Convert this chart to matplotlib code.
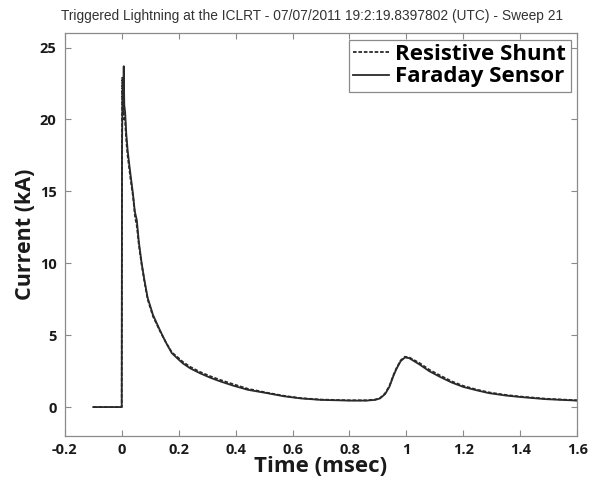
import matplotlib
matplotlib.use("Agg")
import matplotlib.pyplot as plt

# Faraday sensor (solid)
t_faraday = [-0.1, 0.0, 0.001, 0.003, 0.005, 0.007, 0.009, 0.012, 0.016, 0.021, 0.03, 0.039,
             0.046, 0.053, 0.06, 0.07, 0.08, 0.091, 0.11, 0.134, 0.155, 0.176, 0.2, 0.214,
             0.24, 0.274, 0.31, 0.344, 0.39, 0.443, 0.51, 0.57, 0.63, 0.7, 0.74, 0.8, 0.86,
             0.89, 0.907, 0.925, 0.94, 0.955, 0.965, 0.98, 0.995, 1.01, 1.047, 1.08, 1.118,
             1.16, 1.2, 1.25, 1.29, 1.35, 1.4, 1.49, 1.6]
i_faraday = [0, 0, 18, 22, 21, 23.7, 21, 20.5, 19, 17.8, 16.3, 14.9,
             13.6, 13.0, 11.5, 10.0, 8.8, 7.6, 6.4, 5.35, 4.5, 3.75, 3.3, 3.05,
             2.7, 2.36, 2.05, 1.8, 1.5, 1.2, 0.97, 0.75, 0.6, 0.5, 0.48, 0.45, 0.45,
             0.5, 0.6, 0.9, 1.4, 2.2, 2.65, 3.2, 3.45, 3.4, 2.95, 2.5, 2.1,
             1.7, 1.4, 1.15, 0.97, 0.8, 0.7, 0.55, 0.45]

# Resistive shunt (dashed)
t_shunt = [-0.1, 0.0, 0.001, 0.002, 0.004, 0.006, 0.008, 0.011, 0.015, 0.02, 0.03, 0.04,
           0.047, 0.053, 0.06, 0.07, 0.08, 0.091, 0.11, 0.134, 0.155, 0.176, 0.2, 0.214,
           0.24, 0.274, 0.31, 0.344, 0.39, 0.443, 0.51, 0.57, 0.63, 0.7, 0.74, 0.8, 0.86,
           0.89, 0.907, 0.925, 0.94, 0.955, 0.965, 0.98, 0.995, 1.01, 1.047, 1.08, 1.118,
           1.16, 1.2, 1.25, 1.29, 1.35, 1.4, 1.49, 1.6]
i_shunt = [0, 0, 20, 22.9, 20.5, 22.5, 20, 20.2, 18.8, 17.6, 16.0, 14.6,
           13.2, 12.6, 11.3, 9.9, 8.7, 7.5, 6.3, 5.3, 4.5, 3.8, 3.4, 3.15,
           2.8, 2.45, 2.15, 1.9, 1.6, 1.27, 1.0, 0.78, 0.62, 0.52, 0.5, 0.47, 0.47,
           0.52, 0.62, 0.95, 1.45, 2.25, 2.7, 3.25, 3.5, 3.45, 3.05, 2.6, 2.2,
           1.78, 1.47, 1.2, 1.02, 0.84, 0.73, 0.58, 0.47]

xticks = [-0.2, 0, 0.2, 0.4, 0.6, 0.8, 1, 1.2, 1.4, 1.6]
xticklabels = ["-0.2", "0", "0.2", "0.4", "0.6", "0.8", "1", "1.2", "1.4", "1.6"]
yticks = [0, 5, 10, 15, 20, 25]

fig = plt.figure(figsize=(6, 4.8), dpi=100)
ax = fig.add_axes([0.108, 0.092, 0.854, 0.839])

line_col = "#2a2a2a"
ax.plot(t_shunt, i_shunt, color=line_col, lw=1.3, ls=(0, (2, 1)), label="Resistive Shunt")
ax.plot(t_faraday, i_faraday, color=line_col, lw=1.3, ls="-", label="Faraday Sensor")

ax.set_xlim(-0.2, 1.6)
ax.set_ylim(-2, 26)
ax.set_xticks(xticks)
ax.set_xticklabels(xticklabels)
ax.set_yticks(yticks)

for s in ax.spines.values():
    s.set_color("#8a8a8a")
    s.set_linewidth(0.9)
ax.tick_params(direction="in", top=True, right=True, length=4, color="#8a8a8a",
               labelsize=10.5)
ax.tick_params(axis="x", pad=5)
ax.tick_params(axis="y", pad=6)
for lab in ax.get_xticklabels() + ax.get_yticklabels():
    lab.set_fontfamily("Open Sans")
    lab.set_fontweight("bold")
    lab.set_color("#1a1a1a")

ax.set_xlabel("Time (msec)", fontfamily="Open Sans", fontweight="bold", fontsize=16,
              color="#1a1a1a", va="center")
ax.xaxis.set_label_coords(0.5, -0.075)
ax.set_ylabel("Current (kA)", fontfamily="Open Sans", fontweight="bold", fontsize=15.5,
              color="#1a1a1a", va="center")
ax.yaxis.set_label_coords(-0.077, 0.5)
fig.text(0.52, 0.966,
         "Triggered Lightning at the ICLRT - 07/07/2011 19:2:19.8397802 (UTC) - Sweep 21",
         ha="center", va="center", fontsize=9.9, fontfamily="Liberation Sans", color="#333333")

leg = ax.legend(loc="upper right", prop={"family": "Open Sans", "weight": "bold", "size": 16},
                fancybox=False, framealpha=1, edgecolor="#8a8a8a", handlelength=1.6,
                handletextpad=0.3, borderpad=0.2, labelspacing=0.05,
                borderaxespad=0.3)
leg.get_frame().set_linewidth(0.9)

fig.savefig("out.png", dpi=100, facecolor="white")
